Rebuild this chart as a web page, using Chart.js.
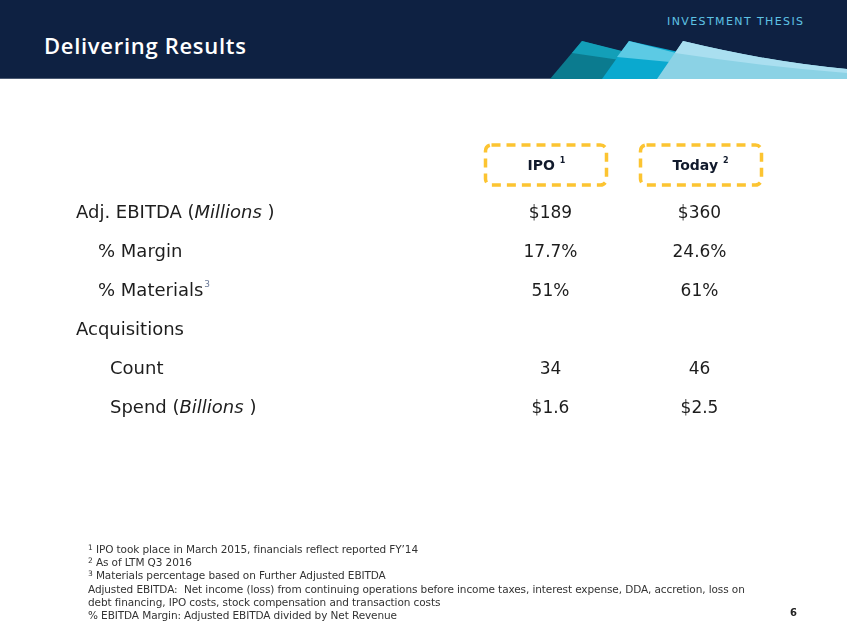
<!DOCTYPE html>
<html>
<head>
<meta charset="utf-8">
<script src="https://cdn.jsdelivr.net/npm/chart.js@4.4.1/dist/chart.umd.min.js"></script>
<style>
  html, body { margin: 0; padding: 0; background: #fff; }
  #page { position: relative; width: 847px; height: 635px; overflow: hidden; font-family: "DejaVu Sans", sans-serif; }
  #head { position: absolute; left: 0; top: 0; width: 847px; height: 78px; background: #0e2142; border-bottom: 1px solid #4b5a72; }
  #head svg { position: absolute; left: 0; top: 0; }
  #title { position: absolute; left: 44px; top: 30px; color: #fff; font: 600 22px "Open Sans", sans-serif; letter-spacing: 0.7px; }
  #tag { position: absolute; left: 667px; top: 15px; color: #5ec3e4; font: 11px "DejaVu Sans", sans-serif; letter-spacing: 1.4px; }
  #wrap { position: absolute; left: 0; top: 0; width: 847px; height: 635px; }
  #notes { position: absolute; left: 88px; top: 543px; font: 10.5px "DejaVu Sans", sans-serif; color: #333; line-height: 13.2px; letter-spacing: -0.1px; }
  #notes sup { font-size: 7.5px; vertical-align: 3px; line-height: 0; }
  #pg { position: absolute; left: 790px; top: 607px; font: bold 10px "DejaVu Sans", sans-serif; color: #222; }
</style>
</head>
<body>
<div id="page">
  <div id="head">
    <svg width="847" height="79">
      <polygon points="550,79 582,41 700,72 700,79" fill="#0b7b8f"/>
      <polygon points="582,41 630,53 620,60 572,53" fill="#139fb8"/>
      <polygon points="602,79 629,41 770,72 770,79" fill="#0aa9cf"/>
      <polygon points="629,41 680,54 670,62 617,57" fill="#5ccae4"/>
      <path d="M657,79 L683,41 Q770,62 847,69 L847,79 Z" fill="#8bd2e5"/>
      <path d="M683,41 Q770,62 847,69 L847,73 Q760,66 675,53 Z" fill="#aadff0"/>
    </svg>
    <div id="title">Delivering Results</div>
    <div id="tag">INVESTMENT THESIS</div>
  </div>
  <div id="wrap"><canvas id="mycanvas"></canvas></div>
  <div id="notes">
    <div><sup>1</sup> IPO took place in March 2015, financials reflect reported FY’14</div>
    <div><sup>2</sup> As of LTM Q3 2016</div>
    <div><sup>3</sup> Materials percentage based on Further Adjusted EBITDA</div>
    <div>Adjusted EBITDA:&nbsp; Net income (loss) from continuing operations before income taxes, interest expense, DDA, accretion, loss on</div>
    <div>debt financing, IPO costs, stock compensation and transaction costs</div>
    <div>% EBITDA Margin: Adjusted EBITDA divided by Net Revenue</div>
  </div>
  <div id="pg">6</div>
</div>
<script>
// table data
var columns = ['IPO', 'Today'];
var columnNotes = ['1', '2'];
var rowLabels = ['Adj. EBITDA', '% Margin', '% Materials', 'Acquisitions', 'Count', 'Spend'];
var rowUnits = ['Millions', '', '', '', '', 'Billions'];
var rowNotes = ['', '', '3', '', '', ''];
var rowLevel = [0, 1, 1, 0, 2, 2];
var ipoValues = ['$189', '17.7%', '51%', null, '34', '$1.6'];
var todayValues = ['$360', '24.6%', '61%', null, '46', '$2.5'];

var levelX = [76, 98, 110];
var ink = '#1d1d1d';
var bodyFont = '"DejaVu Sans", sans-serif';

function points(col, vals) {
	var out = [];
	for (var i in rowLabels) {
		if (vals[i] !== null) out.push({x: col, y: rowLabels[i], label: vals[i]});
	}
	return out;
}

function roundRect(ctx, x, y, w, h, r) {
	ctx.beginPath();
	ctx.moveTo(x + r, y);
	ctx.lineTo(x + w - r, y);
	ctx.arcTo(x + w, y, x + w, y + r, r);
	ctx.lineTo(x + w, y + h - r);
	ctx.arcTo(x + w, y + h, x + w - r, y + h, r);
	ctx.lineTo(x + r, y + h);
	ctx.arcTo(x, y + h, x, y + h - r, r);
	ctx.lineTo(x, y + r);
	ctx.arcTo(x, y, x + r, y, r);
	ctx.closePath();
}

var tableText = {
	id: 'tableText',
	afterDatasetsDraw: function(chart) {
		var ctx = chart.ctx;
		var xs = chart.scales.x, ys = chart.scales.y;
		ctx.save();
		ctx.textBaseline = 'middle';
		ctx.fillStyle = ink;

		// row labels
		rowLabels.forEach(function(lab, i) {
			var py = ys.getPixelForValue(i);
			var px = levelX[rowLevel[i]];
			ctx.textAlign = 'left';
			ctx.font = '18px ' + bodyFont;
			ctx.fillStyle = ink;
			var txt = rowUnits[i] ? lab + ' (' : lab;
			ctx.fillText(txt, px, py);
			px += ctx.measureText(txt).width;
			if (rowUnits[i]) {
				ctx.font = 'italic 18px ' + bodyFont;
				ctx.fillText(rowUnits[i], px, py);
				px += ctx.measureText(rowUnits[i] + ' ').width;
				ctx.font = '18px ' + bodyFont;
				ctx.fillText(')', px, py);
			}
			if (rowNotes[i]) {
				ctx.font = '9px ' + bodyFont;
				ctx.fillStyle = '#6b7a99';
				ctx.fillText(rowNotes[i], px + 1, py - 7);
			}
		});

		// values, placed at the points of each dataset
		ctx.fillStyle = ink;
		ctx.font = '17px ' + bodyFont;
		ctx.textAlign = 'center';
		chart.data.datasets.forEach(function(ds, di) {
			chart.getDatasetMeta(di).data.forEach(function(pt, j) {
				ctx.fillText(ds.data[j].label, pt.x, pt.y);
			});
		});

		// column headers with dashed boxes
		var hy = chart.chartArea.top - 28;
		columns.forEach(function(c, i) {
			var cx = xs.getPixelForValue(i);
			ctx.strokeStyle = '#fcc431';
			ctx.lineWidth = 3.5;
			ctx.setLineDash([9, 6]);
			roundRect(ctx, cx - 61 + (i ? 2 : -4), hy - 21, 121, 40, 6);
			ctx.stroke();
			ctx.setLineDash([]);
			ctx.font = 'bold 14px ' + bodyFont;
			var w1 = ctx.measureText(c + ' ').width;
			ctx.font = 'bold 8px ' + bodyFont;
			var w2 = ctx.measureText(columnNotes[i]).width;
			var sx = cx - (w1 + w2) / 2 + (i ? 1 : -4);
			ctx.textAlign = 'left';
			ctx.fillStyle = '#111a2c';
			ctx.font = 'bold 14px ' + bodyFont;
			ctx.fillText(c, sx, hy);
			ctx.font = 'bold 8px ' + bodyFont;
			ctx.fillText(columnNotes[i], sx + w1, hy - 5);
		});
		ctx.restore();
	}
};

var ctx = document.getElementById('mycanvas');
var table = new Chart(ctx, {
	type: 'scatter',
	data: {
		datasets: [
			{label: columns[0], data: points(columns[0], ipoValues), pointRadius: 0},
			{label: columns[1], data: points(columns[1], todayValues), pointRadius: 0}
		]
	},
	options: {
		responsive: true,
		maintainAspectRatio: false,
		animation: false,
		events: [],
		layout: {padding: {left: 476, right: 73, top: 194, bottom: 207}},
		scales: {
			x: {type: 'category', labels: columns, offset: true, display: false},
			y: {type: 'category', labels: rowLabels, offset: true, display: false}
		},
		plugins: {
			legend: {display: false},
			tooltip: {enabled: false}
		}
	},
	plugins: [tableText]
});
</script>
</body>
</html>
